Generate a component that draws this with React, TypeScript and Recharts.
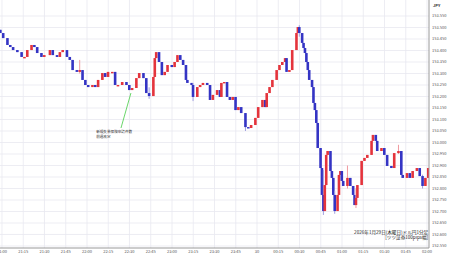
import React from 'react';
import { ComposedChart, Bar, XAxis, YAxis, CartesianGrid, ReferenceLine, ReferenceDot } from 'recharts';

const times = [
  -1, 1, 4, 6, 8, 11, 14, 16, 18, 21, 23, 25, 28, 30, 34, 36, 39, 41, 43, 46,
  48, 50, 53, 55, 57, 59, 61, 64, 66, 68, 71, 73, 75, 78, 80, 82, 85, 88, 90, 92,
  95, 97, 100, 102, 104, 107, 108, 109, 111, 113, 115, 117, 120, 122, 124, 126, 128, 130, 131, 134,
  135, 138, 140, 142, 145, 147, 149, 152, 154, 155, 157, 159, 161, 163, 165, 167, 169, 172, 174, 176,
  179, 181, 184, 186, 187, 189, 191, 194, 196, 198, 200, 201, 203, 205, 208, 209, 210, 212, 213, 214,
  215, 216, 217, 219, 220, 221, 222, 223, 225, 226, 227, 228, 229, 230, 232, 233, 234, 235, 237, 238,
  239, 240, 241, 244, 246, 248, 249, 250, 251, 254, 256, 258, 261, 262, 264, 265, 268, 270, 272, 275,
  277, 280, 282, 283, 286, 288, 290, 293, 295, 297, 299, 301,
];

const closes = [
  153.476, 153.454, 153.424, 153.415, 153.402, 153.393, 153.372, 153.372, 153.402, 153.424,
  153.415, 153.389, 153.372, 153.380, 153.402, 153.380, 153.372, 153.393, 153.402, 153.372,
  153.359, 153.315, 153.307, 153.315, 153.272, 153.250, 153.241, 153.250, 153.241, 153.272,
  153.302, 153.285, 153.307, 153.307, 153.250, 153.250, 153.263, 153.250, 153.228, 153.237,
  153.280, 153.302, 153.280, 153.215, 153.202, 153.285, 153.367, 153.393, 153.350, 153.293,
  153.307, 153.337, 153.328, 153.350, 153.380, 153.359, 153.337, 153.272, 153.259, 153.250,
  153.198, 153.241, 153.250, 153.259, 153.250, 153.185, 153.207, 153.228, 153.198, 153.259,
  153.263, 153.198, 153.185, 153.198, 153.141, 153.154, 153.128, 153.067, 153.063, 153.076,
  153.107, 153.154, 153.185, 153.154, 153.215, 153.241, 153.272, 153.315, 153.337, 153.350,
  153.367, 153.307, 153.315, 153.402, 153.476, 153.502, 153.476, 153.433, 153.411, 153.389,
  153.350, 153.315, 153.272, 153.241, 153.172, 153.141, 153.085, 152.976, 152.889, 152.772,
  152.702, 152.815, 152.946, 152.963, 152.876, 152.846, 152.772, 152.702, 152.772, 152.859,
  152.876, 152.833, 152.811, 152.846, 152.811, 152.772, 152.728, 152.759, 152.815, 152.920,
  152.933, 152.946, 153.007, 153.033, 153.007, 152.963, 152.976, 152.946, 152.898, 152.889,
  152.954, 152.963, 152.859, 152.846, 152.867, 152.846, 152.876, 152.889, 152.854, 152.811,
  152.846, 152.889,
];

const firstOpen = 153.49;

const wickTimes = [55, 104, 135, 172, 210, 227, 235, 244, 250, 280, 297];
const wickHighs = [153.359, 153.240, 153.259, 153.100, 153.510, 152.880, 152.790, 152.900, 152.800, 152.990, 152.860];
const wickLows = [153.300, 153.190, 153.180, 153.050, 153.460, 152.685, 152.690, 152.800, 152.715, 152.950, 152.800];

const xTicks = [0, 15, 30, 45, 60, 75, 90, 105, 120, 135, 150, 165, 180, 195, 210, 225, 240, 255, 270, 285, 300];
const xTickLabels = [
  '21:00', '21:15', '21:30', '21:45', '22:00', '22:15', '22:30', '22:45', '23:00', '23:15', '23:30',
  '23:45', '30', '00:15', '00:30', '00:45', '01:00', '01:15', '01:30', '01:45', '02:00',
];
const yTicks = [
  152.55, 152.6, 152.65, 152.7, 152.75, 152.8, 152.85, 152.9, 152.95, 153.0, 153.05,
  153.1, 153.15, 153.2, 153.25, 153.3, 153.35, 153.4, 153.45, 153.5, 153.55,
];

const annotationLines = ['新規失業保険申請件数', '前週改定'];
const captionLines = ['2026年1月29日(木曜日)ドル円1分足', '[ツツ証券100pips幅]'];

const rows = times.map((t, i) => {
  const open = i === 0 ? firstOpen : closes[i - 1];
  const close = closes[i];
  let high = Math.max(open, close);
  let low = Math.min(open, close);
  const w = wickTimes.indexOf(t);
  if (w >= 0) {
    high = Math.max(high, wickHighs[w]);
    low = Math.min(low, wickLows[w]);
  }
  if (high - low < 0.0005) high = low + 0.0005;
  return { t, open, close, high, low, range: [low, high] };
});

const UP = '#e4343c';
const DOWN = '#3434c4';
const UP_WICK = '#f09aa0';
const DOWN_WICK = '#a0a0e0';
const FONT = '"Noto Sans CJK JP", "Noto Sans", sans-serif';
const BODY_W = 2.6;

const Candle = (props: any) => {
  const { x, y, width, height, payload } = props;
  if (!payload || x == null) return null;
  const top = Math.min(y, y + height);
  const h = Math.abs(height);
  const { open, close, high, low } = payload;
  const span = high - low;
  const py = (v: number) => (span > 0 ? top + ((high - v) / span) * h : top);
  const up = close >= open;
  const cx = x + width / 2;
  const bTop = py(Math.max(open, close));
  const bBot = py(Math.min(open, close));
  return (
    <g>
      <line x1={cx} x2={cx} y1={top} y2={top + h} stroke={up ? UP_WICK : DOWN_WICK} strokeWidth={1} />
      <rect x={cx - BODY_W / 2} y={bTop} width={BODY_W} height={Math.max(1.4, bBot - bTop)} fill={up ? UP : DOWN} />
    </g>
  );
};

const AnnotationText = (props: any) => {
  const { cx, cy } = props;
  return (
    <text x={cx} y={cy} fontSize={3.6} fill="#333" fontFamily={FONT}>
      {annotationLines.map((l, i) => (
        <tspan key={i} x={cx} dy={i === 0 ? 0 : 4.6}>{l}</tspan>
      ))}
    </text>
  );
};

const CaptionText = (props: any) => {
  const { cx, cy } = props;
  return (
    <text x={cx} y={cy} fontSize={4.6} fill="#222" fontFamily={FONT} textAnchor="end">
      {captionLines.map((l, i) => (
        <tspan key={i} x={cx} dy={i === 0 ? 0 : 4.6}>{l}</tspan>
      ))}
    </text>
  );
};

export default function App() {
  return (
    <div style={{ position: 'absolute', left: 0, top: 0, width: 450, height: 258, background: '#fff' }}>
      <ComposedChart
        width={450}
        height={258}
        data={rows}
        margin={{ top: 0, right: 0, left: 0, bottom: 0 }}
        barCategoryGap={0}
      >
        <CartesianGrid stroke="#e8e8f0" strokeWidth={0.8} horizontalValues={yTicks} verticalValues={xTicks} />
        <XAxis
          dataKey="t"
          type="number"
          domain={[-1.4, 301.4]}
          ticks={xTicks}
          interval={0}
          allowDataOverflow
          height={10}
          tickSize={0}
          tickMargin={2.5}
          stroke="#999"
          tick={{ fontSize: 4, fill: '#555', fontFamily: FONT }}
          tickFormatter={(v: number) => xTickLabels[xTicks.indexOf(v)] ?? ''}
        />
        <YAxis
          orientation="right"
          type="number"
          domain={[152.5413, 153.6196]}
          ticks={yTicks}
          interval={0}
          allowDataOverflow
          width={21}
          tickSize={0}
          tickMargin={3}
          stroke="#999"
          tick={{ fontSize: 4, fill: '#555', fontFamily: FONT }}
          tickFormatter={(v: number) => v.toFixed(3)}
        />
        <Bar dataKey="range" isAnimationActive={false} shape={<Candle />} />
        <ReferenceLine
          segment={[{ x: 91, y: 153.215 }, { x: 84, y: 153.063 }]}
          stroke="#44cc44"
          strokeWidth={0.8}
          ifOverflow="visible"
        />
        <ReferenceDot x={66.5} y={153.04} r={0} ifOverflow="visible" shape={<AnnotationText />} />
        <ReferenceDot x={300.8} y={152.6} r={0} ifOverflow="visible" shape={<CaptionText />} />
      </ComposedChart>
      <div
        style={{
          position: 'absolute',
          left: 433,
          top: 3,
          fontSize: 4,
          fontWeight: 'bold',
          color: '#333',
          fontFamily: FONT,
          lineHeight: '5px',
        }}
      >
        JPY
      </div>
    </div>
  );
}
